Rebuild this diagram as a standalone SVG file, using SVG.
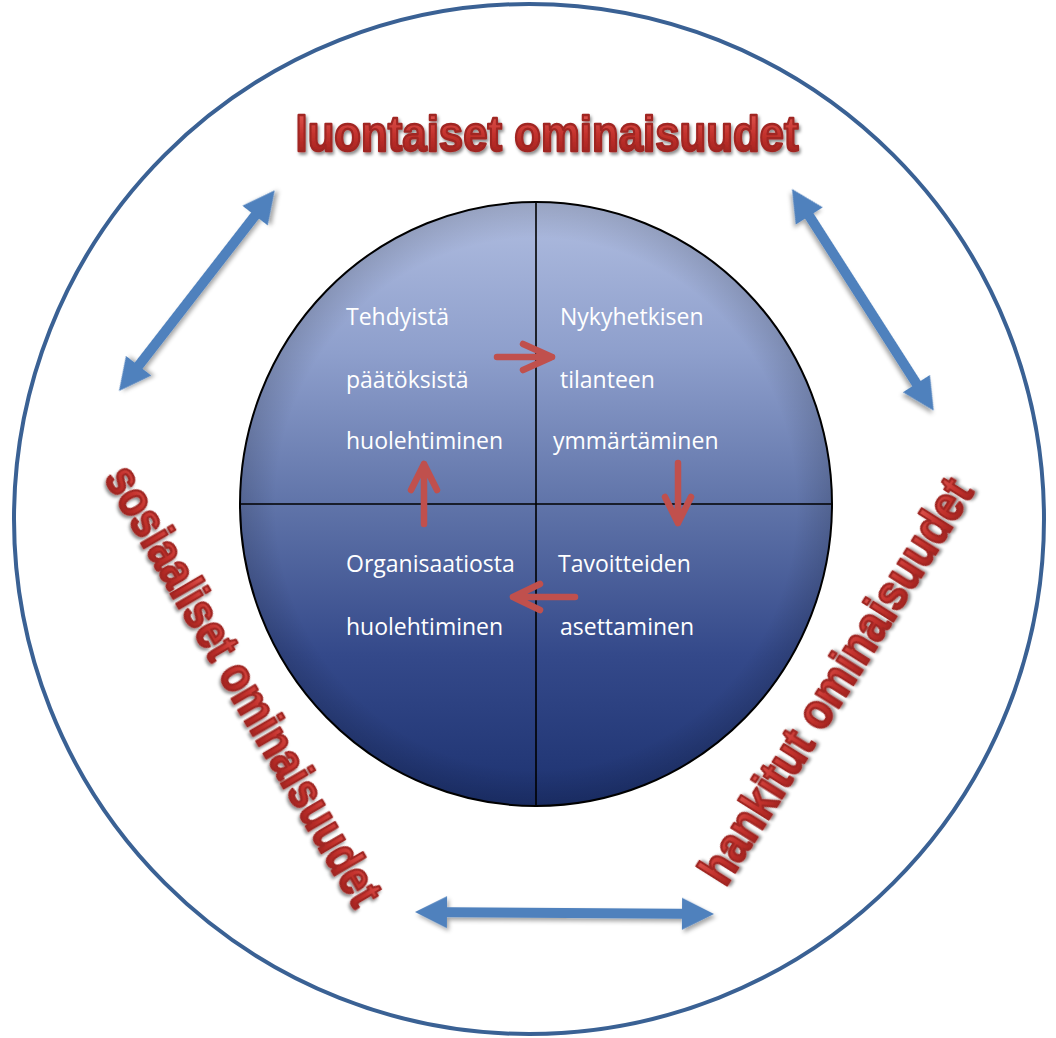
<svg xmlns="http://www.w3.org/2000/svg" width="1056" height="1038" viewBox="0 0 1056 1038">
  <defs>
    <linearGradient id="innerGrad" x1="0" y1="0" x2="0" y2="1">
      <stop offset="0" stop-color="#b0bde0"/>
      <stop offset="0.25" stop-color="#8e9fcc"/>
      <stop offset="0.5" stop-color="#6074a9"/>
      <stop offset="0.75" stop-color="#34498a"/>
      <stop offset="1" stop-color="#1d3270"/>
    </linearGradient>
    <radialGradient id="edgeShade" cx="0.5" cy="0.5" r="0.5">
      <stop offset="0.88" stop-color="#000" stop-opacity="0"/>
      <stop offset="1" stop-color="#000" stop-opacity="0.14"/>
    </radialGradient>
    <linearGradient id="redGrad" x1="0" y1="0" x2="0" y2="1">
      <stop offset="0" stop-color="#e8605a"/>
      <stop offset="0.5" stop-color="#c4332e"/>
      <stop offset="1" stop-color="#951c19"/>
    </linearGradient>
    <filter id="shadow" x="-10%" y="-10%" width="130%" height="140%">
      <feDropShadow dx="2" dy="3" stdDeviation="2" flood-color="#000" flood-opacity="0.35"/>
    </filter>
    <filter id="titleShadow" x="-5%" y="-20%" width="110%" height="150%">
      <feDropShadow dx="1.5" dy="2.5" stdDeviation="1.8" flood-color="#000" flood-opacity="0.45"/>
    </filter>
    <path id="dblArrow254" d="M0,0 L32,-16 L32,-5 L222,-5 L222,-16 L254,0 L222,16 L222,5 L32,5 L32,16 Z"/>
    <path id="dblArrow263" d="M0,0 L32,-16 L32,-5 L231,-5 L231,-16 L263,0 L231,16 L231,5 L32,5 L32,16 Z"/>
    <path id="dblArrow299" d="M0,0 L32,-16 L32,-5 L267,-5 L267,-16 L299,0 L267,16 L267,5 L32,5 L32,16 Z"/>
  </defs>
  <style>
    .outer { fill: none; stroke: #3a6194; stroke-width: 4; }
    .inner { fill: url(#innerGrad); stroke: #000; stroke-width: 2; }
    .quad { stroke: #000; stroke-width: 1.6; fill: none; }
    .lbl { font-family: "Open Sans", "Liberation Sans", sans-serif; font-size: 23px; fill: #ffffff; }
    .title { font-family: "Liberation Sans", Arial, sans-serif; font-weight: 700; font-size: 50px; fill: url(#redGrad); stroke: #a02522; stroke-width: 2.4; stroke-linejoin: round; filter: url(#titleShadow); }
    .blue { fill: #4f81bd; filter: url(#shadow); }
    .red { fill: none; stroke: #c0504d; stroke-width: 6.5; stroke-linecap: round; stroke-linejoin: round; }
  </style>
  <rect width="1056" height="1038" fill="#ffffff"/>

  <g id="outer-ring">
    <circle class="outer" cx="529" cy="519" r="515"/>
  </g>

  <g id="inner-circle">
    <ellipse class="inner" cx="536" cy="504" rx="296" ry="302"/>
    <ellipse cx="536" cy="504" rx="296" ry="302" fill="url(#edgeShade)"/>
    <line class="quad" x1="536" y1="202" x2="536" y2="806"/>
    <line class="quad" x1="240" y1="504" x2="832" y2="504"/>
  </g>

  <g id="q-tehdyista">
    <text class="lbl" x="346" y="325">Tehdyistä</text>
    <text class="lbl" x="346" y="388">päätöksistä</text>
    <text class="lbl" x="346" y="449">huolehtiminen</text>
  </g>
  <g id="q-nykyhetkisen">
    <text class="lbl" x="560" y="325">Nykyhetkisen</text>
    <text class="lbl" x="560" y="388">tilanteen</text>
    <text class="lbl" x="553" y="449">ymmärtäminen</text>
  </g>
  <g id="q-tavoitteiden">
    <text class="lbl" x="558" y="572">Tavoitteiden</text>
    <text class="lbl" x="560" y="635">asettaminen</text>
  </g>
  <g id="q-organisaatiosta">
    <text class="lbl" x="346" y="572">Organisaatiosta</text>
    <text class="lbl" x="346" y="635">huolehtiminen</text>
  </g>

  <g id="title-luontaiset">
    <text class="title" x="547" y="151" text-anchor="middle" textLength="503" lengthAdjust="spacingAndGlyphs">luontaiset ominaisuudet</text>
  </g>
  <g id="title-sosiaaliset">
    <text class="title" transform="translate(229,694) rotate(59.8)" x="0" y="0" text-anchor="middle" textLength="500" lengthAdjust="spacingAndGlyphs">sosiaaliset ominaisuudet</text>
  </g>
  <g id="title-hankitut">
    <text class="title" transform="translate(850,690) rotate(-57.8)" x="0" y="0" text-anchor="middle" textLength="468" lengthAdjust="spacingAndGlyphs">hankitut ominaisuudet</text>
  </g>

  <g id="connectors">
    <use href="#dblArrow254" class="blue" transform="translate(119,391) rotate(-52.2)"/>
    <use href="#dblArrow263" class="blue" transform="translate(792,189) rotate(57.4)"/>
    <use href="#dblArrow299" class="blue" transform="translate(415,912) rotate(0.38)"/>
    <path class="red" d="M497,357 L552,357 M523,344 L552,357 L523,370"/>
    <path class="red" d="M678,463 L678,523 M665,497 L678,523 L691,497"/>
    <path class="red" d="M575,597 L513,597 M540,584 L513,597 L540,610"/>
    <path class="red" d="M424,524 L424,464 M411,490 L424,464 L437,490"/>
  </g>
</svg>
